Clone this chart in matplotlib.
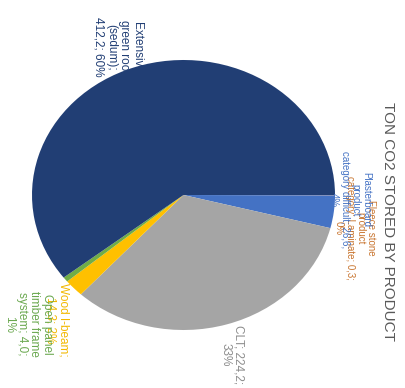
import matplotlib.pyplot as plt

# data (clockwise from 3 o'clock, chart is rotated 90 deg)
products = ["Fleece stone", "Plasterboard", "CLT", "Wood I-beam",
            "Open panel timber frame system", "Extensive green roof (sedum)"]
tons = [0.3, 26.6, 224.2, 14.3, 4.0, 412.2]
colors = ["#ED7D31", "#4472C4", "#A5A5A5", "#FFC000", "#70AD47", "#213E74"]

label_texts = [
    "Fleece stone\nproduct\ncategory: Laminate; 0,3;\n0%",
    "Plasterboard\nproduct\ncategory difficult; 26,6;\n4%",
    "CLT; 224,2;\n33%",
    "Wood I-beam;\n14,3; 2%",
    "Open panel\ntimber frame\nsystem; 4,0;\n1%",
    "Extensive\ngreen roof\n(sedum);\n412,2; 60%",
]
label_colors = ["#C8742E", "#4472C4", "#8C8C8C", "#F2B800", "#6AA84F", "#213E74"]
label_sizes = [7, 7, 8.5, 8.5, 8.5, 8.5]
# label centres in pixels of the 406x388 picture
label_px = [(355, 228), (350, 200), (232, 355), (57, 320), (28, 324), (118, 47)]

W, H = 406, 388
fig = plt.figure(figsize=(W / 100, H / 100), dpi=100)
# pie occupies x 32..335, y 60..330 (slightly elliptical)
x0, x1, y0, y1 = 32, 335, 60, 330
ax = fig.add_axes([x0 / W, (H - y1) / H, (x1 - x0) / W, (y1 - y0) / H])
ax.pie(tons, colors=colors, startangle=0, counterclock=False,
       wedgeprops=dict(linewidth=0))
ax.set_aspect("auto")
ax.set_xlim(-1, 1)
ax.set_ylim(-1, 1)

fam = ["Liberation Sans", "DejaVu Sans"]
cx, cy = (x0 + x1) / 2, (y0 + y1) / 2
rx, ry = (x1 - x0) / 2, (y1 - y0) / 2
for txt, c, s, (px, py) in zip(label_texts, label_colors, label_sizes, label_px):
    ax.text((px - cx) / rx, (cy - py) / ry, txt, color=c, fontsize=s,
            rotation=-90, ha="center", va="center", multialignment="center",
            linespacing=1.1, family=fam)

fig.text(388 / W, 1 - 222 / H, "TON CO2 STORED BY PRODUCT", rotation=-90,
         ha="center", va="center", fontsize=11, color="#595959",
         family=fam)

fig.savefig("out.png", dpi=100)
